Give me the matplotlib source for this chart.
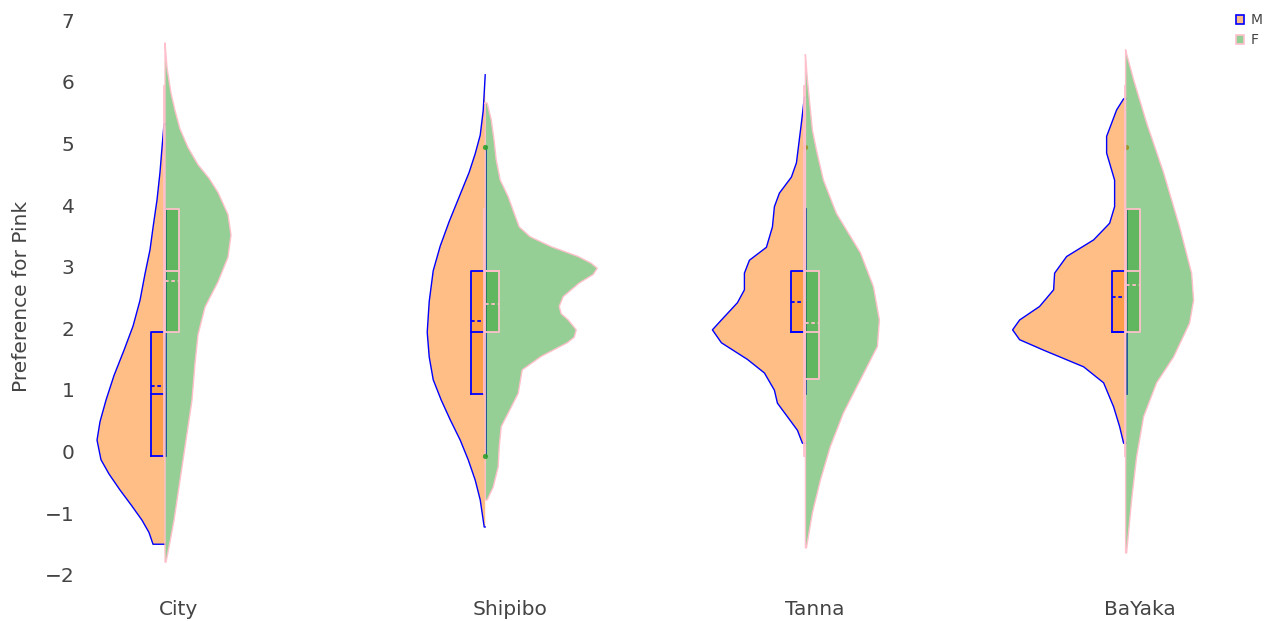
import matplotlib
matplotlib.use("Agg")
import matplotlib.pyplot as plt
from matplotlib.patches import Patch
from matplotlib.transforms import ScaledTranslation

groups = ['City', 'Shipibo', 'Tanna', 'BaYaka']

# violin outlines: value levels and half-widths (density)
city_m_y = [5.38, 5.0, 4.6, 4.15, 3.7, 3.34, 2.95, 2.52, 2.1, 1.71, 1.3, 0.9, 0.55, 0.25, -0.07, -0.3, -0.56, -0.8, -1.05, -1.25, -1.44]
city_m_w = [0.01, 0.03, 0.05, 0.08, 0.12, 0.15, 0.20, 0.25, 0.32, 0.41, 0.51, 0.59, 0.65, 0.68, 0.64, 0.56, 0.45, 0.34, 0.23, 0.16, 0.12]
city_f_y = [6.69, 6.3, 5.88, 5.6, 5.3, 5.0, 4.72, 4.5, 4.27, 3.91, 3.58, 3.22, 2.82, 2.41, 1.96, 1.5, 0.9, 0.25, -0.4, -1.05, -1.4, -1.73]
city_f_w = [0.0, 0.02, 0.06, 0.10, 0.15, 0.23, 0.33, 0.44, 0.53, 0.63, 0.66, 0.63, 0.53, 0.40, 0.33, 0.30, 0.27, 0.21, 0.15, 0.09, 0.05, 0.01]

shipibo_m_y = [6.18, 5.6, 5.2, 4.9, 4.6, 4.2, 3.8, 3.4, 3.0, 2.5, 2.0, 1.6, 1.23, 0.9, 0.58, 0.25, -0.07, -0.4, -0.72, -1.16]
shipibo_m_w = [0.0, 0.02, 0.05, 0.10, 0.16, 0.26, 0.36, 0.45, 0.52, 0.56, 0.58, 0.56, 0.52, 0.44, 0.35, 0.25, 0.17, 0.10, 0.05, 0.01]
shipibo_f_y = [5.72, 5.45, 5.1, 4.8, 4.47, 4.2, 3.93, 3.71, 3.55, 3.39, 3.23, 3.12, 3.04, 2.94, 2.8, 2.58, 2.42, 2.3, 2.2, 2.04, 1.92, 1.83, 1.61, 1.39, 1.01, 0.69, 0.47, 0.14, -0.18, -0.51, -0.72]
shipibo_f_w = [0.02, 0.06, 0.09, 0.11, 0.15, 0.23, 0.29, 0.34, 0.45, 0.66, 0.93, 1.06, 1.12, 1.08, 0.94, 0.78, 0.74, 0.76, 0.83, 0.91, 0.89, 0.82, 0.56, 0.37, 0.33, 0.23, 0.16, 0.14, 0.13, 0.08, 0.02]

tanna_m_y = [5.82, 5.40, 4.75, 4.52, 4.26, 4.04, 3.71, 3.38, 3.17, 2.96, 2.69, 2.48, 2.20, 2.04, 1.83, 1.56, 1.34, 1.06, 0.85, 0.63, 0.41, 0.20]
tanna_m_w = [0.01, 0.04, 0.09, 0.14, 0.26, 0.31, 0.33, 0.39, 0.56, 0.61, 0.61, 0.68, 0.84, 0.93, 0.84, 0.58, 0.41, 0.31, 0.28, 0.18, 0.08, 0.03]
tanna_f_y = [6.5, 6.1, 5.77, 5.28, 4.96, 4.47, 3.93, 3.29, 2.74, 2.2, 1.77, 1.23, 0.69, 0.15, -0.4, -0.93, -1.5]
tanna_f_w = [0.0, 0.02, 0.04, 0.07, 0.11, 0.18, 0.31, 0.55, 0.68, 0.74, 0.72, 0.55, 0.38, 0.25, 0.15, 0.07, 0.01]

bayaka_m_y = [5.79, 5.61, 5.18, 4.91, 4.47, 4.04, 3.77, 3.50, 3.23, 2.96, 2.69, 2.42, 2.20, 2.04, 1.88, 1.71, 1.44, 1.18, 0.79, 0.47, 0.20]
bayaka_m_w = [0.02, 0.09, 0.19, 0.19, 0.11, 0.11, 0.16, 0.32, 0.59, 0.71, 0.72, 0.86, 1.06, 1.13, 1.06, 0.82, 0.42, 0.22, 0.12, 0.06, 0.02]
bayaka_f_y = [6.58, 6.10, 5.40, 4.59, 3.71, 2.96, 2.52, 2.15, 1.60, 1.18, 0.63, -0.02, -0.72, -1.58]
bayaka_f_w = [0.0, 0.08, 0.21, 0.38, 0.54, 0.66, 0.68, 0.64, 0.48, 0.31, 0.18, 0.11, 0.06, 0.01]

# box stats
m_q1 = [0, 1, 2, 2]
m_med = [1, 2, 2, 2]
m_q3 = [2, 3, 3, 3]
m_mean = [1.13, 2.19, 2.5, 2.57]
m_lo = [0, 0, 1, 1]
m_hi = [4, 5, 4, 4]
m_out = [[], [], [5], [5]]

f_q1 = [2, 2, 1.25, 2]
f_med = [3, 3, 2, 3]
f_q3 = [4, 3, 3, 4]
f_mean = [2.83, 2.46, 2.15, 2.77]
f_lo = [0, 1, 0, 0]
f_hi = [6, 4, 6, 6]
f_out = [[], [0, 5], [], []]

m_y = [city_m_y, shipibo_m_y, tanna_m_y, bayaka_m_y]
m_w = [city_m_w, shipibo_m_w, tanna_m_w, bayaka_m_w]
f_y = [city_f_y, shipibo_f_y, tanna_f_y, bayaka_f_y]
f_w = [city_f_w, shipibo_f_w, tanna_f_w, bayaka_f_w]

ORANGE = '#ff7f0e'
GREEN = '#2ca02c'
TXT = '#444444'
plt.rcParams['font.family'] = ['DejaVu Sans']

W, H = 1275, 621
fig = plt.figure(figsize=(W / 100, H / 100), dpi=100)
ax = fig.add_axes([80 / W, (H - 590) / H, (1225 - 80) / W, (590 - 5) / H])

scale = 100 / 320.2      # density -> category units
boxw = 0.044
px = 1 / 320.2
label_shift = [0.041, 0.077, 0.030, 0.045]   # tick labels sit right of the violins


def draw_half(xc, ys, ws, side, fc, lc, q1, med, q3, mean, lo, hi, outs, z):
    xs = [xc + side * w * scale for w in ws]
    ax.fill_betweenx(ys, xc, xs, facecolor=fc, alpha=0.5, linewidth=0, zorder=z)
    if side < 0:
        ax.plot([xc] + xs + [xc], [ys[0]] + ys + [ys[-1]], color=lc, lw=1.0, zorder=z + 1)
    else:
        ax.plot([xc] + xs + [xc, xc], [ys[0]] + ys + [ys[-1], ys[0]], color=lc, lw=1.0, zorder=z + 1)
    # whisker along the centre
    wx = xc - side * px
    ax.plot([wx, wx], [lo, hi], color=lc, lw=1.3, zorder=z + 2)
    # box
    x0, x1 = (xc - boxw, xc) if side < 0 else (xc, xc + boxw)
    ax.fill_between([x0, x1], q1, q3, facecolor=fc, alpha=0.5, linewidth=0, zorder=z + 2)
    ax.plot([x0, x1, x1, x0, x0], [q1, q1, q3, q3, q1], color=lc, lw=1.3, zorder=z + 3)
    ax.plot([x0, x1], [med, med], color=lc, lw=1.3, zorder=z + 3)
    ax.plot([x0, x1], [mean, mean], color=lc, lw=1.3, ls=(0, (2, 1.5)), zorder=z + 3)
    if outs:
        ax.scatter([xc] * len(outs), outs, s=14, color=fc, alpha=0.9, linewidths=0, zorder=z + 4)


for i in range(len(groups)):
    xc = i
    draw_half(xc, m_y[i], m_w[i], -1, ORANGE, 'blue', m_q1[i], m_med[i], m_q3[i],
              m_mean[i], m_lo[i], m_hi[i], m_out[i], 2)
    draw_half(xc, f_y[i], f_w[i], 1, GREEN, 'pink', f_q1[i], f_med[i], f_q3[i],
              f_mean[i], f_lo[i], f_hi[i], f_out[i], 10)

ax.set_xlim(-0.2655, 3.3104)
ax.set_ylim(-2.183, 7.313)
ax.set_xticks([i + label_shift[i] for i in range(len(groups))])
ax.set_xticklabels(groups)
ax.set_yticks(range(-2, 8))
ax.tick_params(axis='both', length=0, labelsize=14.5, colors=TXT)
ax.tick_params(axis='x', pad=7)
ax.tick_params(axis='y', pad=4)
up = ScaledTranslation(0, 4 / 100, fig.dpi_scale_trans)
for lab in ax.get_yticklabels():
    lab.set_transform(lab.get_transform() + up)
for s in ax.spines.values():
    s.set_visible(False)
ax.set_ylabel('Preference for Pink', fontsize=14.5, color=TXT)
ax.yaxis.set_label_coords(-0.043, 0.501)

handles = [Patch(facecolor=ORANGE + '80', edgecolor='blue', lw=1.2),
           Patch(facecolor=GREEN + '80', edgecolor='pink', lw=1.2)]
fig.legend(handles, ['M', 'F'], loc='upper left', bbox_to_anchor=(1236 / W, 1 - 13 / H),
           frameon=False, fontsize=10, handlelength=0.6, handleheight=0.6,
           handletextpad=0.45, labelspacing=0.45, borderpad=0, borderaxespad=0,
           labelcolor=TXT)

fig.savefig('out.png', dpi=100)
